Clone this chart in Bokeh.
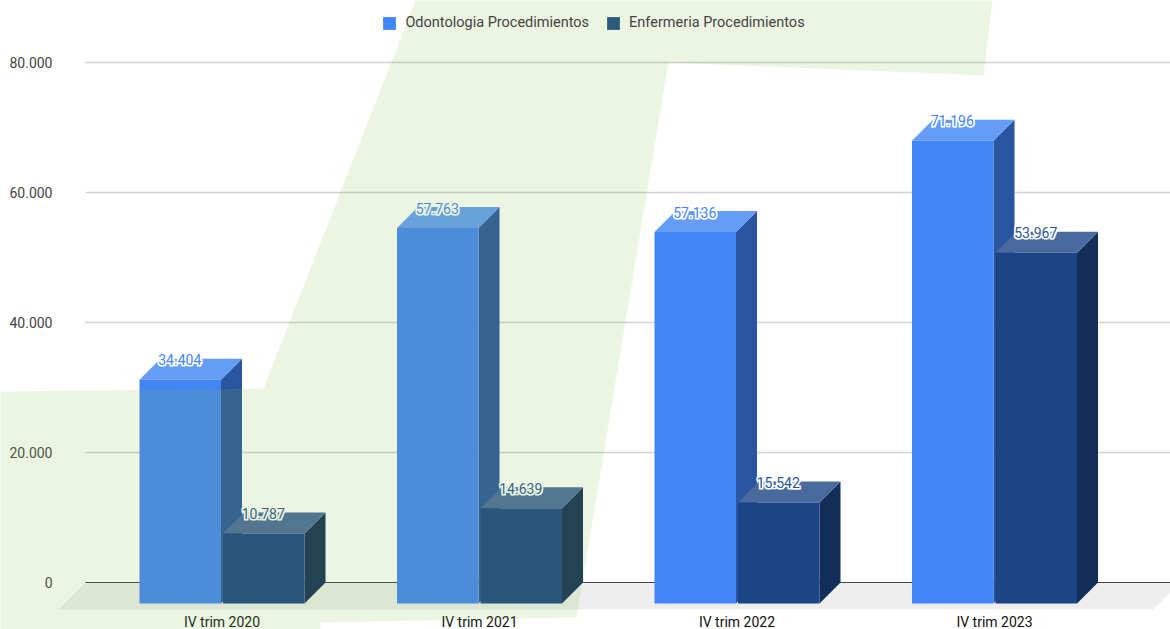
from bokeh.plotting import figure
from bokeh.embed import file_html
from bokeh.resources import INLINE
from bokeh.models import FixedTicker, Legend, LegendItem, ColumnDataSource
from bokeh.core.properties import value

categories = ["IV trim 2020", "IV trim 2021", "IV trim 2022", "IV trim 2023"]
odontologia = [34404, 57763, 57136, 71196]
enfermeria = [10787, 14639, 15542, 53967]
y_ticks = [0, 20000, 40000, 60000, 80000]
y_tick_labels = ["0", "20.000", "40.000", "60.000", "80.000"]
series_names = ["Odontologia Procedimientos", "Enfermeria Procedimientos"]
legend_colors = ["#4285F4", "#2C5A7C"]

WIDTH, HEIGHT = 1170, 629
ZERO_PX, TOP_PX = 582, 62
CAT0_PX, CAT_STEP = 221.5, 257.5
BAR_W_PX, GAP_PX, DEPTH_PX = 81.5, 2, 21
PX_X = 1 / CAT_STEP
PX_Y = 80000 / (ZERO_PX - TOP_PX)
FONT = "Roboto"


def dx(px):
    return (px - CAT0_PX) * PX_X


def dy(py):
    return (ZERO_PX - py) * PX_Y


p = figure(width=WIDTH, height=HEIGHT, output_backend="svg", toolbar_location=None,
           x_range=(dx(0), dx(WIDTH)), y_range=(dy(HEIGHT), dy(0)),
           min_border=0, outline_line_color=None,
           background_fill_color="white", border_fill_color="white")
p.grid.visible = False

ax = p.yaxis[0]
ax.fixed_location = dx(62)
ax.ticker = FixedTicker(ticks=y_ticks)
ax.major_label_overrides = dict(zip(y_ticks, y_tick_labels))
ax.axis_line_color = None
ax.major_tick_line_color = None
ax.minor_tick_line_color = None
ax.major_label_text_font = FONT
ax.major_label_text_font_size = "14px"
ax.major_label_text_color = "#444444"
ax.major_label_standoff = 4

bx = p.xaxis[0]
bx.fixed_location = dy(605)
bx.ticker = FixedTicker(ticks=list(range(len(categories))))
bx.major_label_overrides = dict(enumerate(categories))
bx.axis_line_color = None
bx.major_tick_line_color = None
bx.minor_tick_line_color = None
bx.major_label_text_font = FONT
bx.major_label_text_font_size = "14px"
bx.major_label_text_color = "#111111"
bx.major_label_standoff = 2

# floor
fx0 = dx(85)
fx1 = dx(WIDTH + 10)
d_x, d_y = DEPTH_PX * PX_X, DEPTH_PX * PX_Y
floor_low = -27 * PX_Y
p.patch([fx0, fx1, fx1 - 27 * PX_X, fx0 - 27 * PX_X], [0, 0, floor_low, floor_low],
        fill_color="#EEEEEE", line_color=None)

# gridlines
for t in y_ticks:
    p.segment([fx0], [t], [dx(WIDTH)], [t],
              line_color="#444444" if t == 0 else "#D2D2D2",
              line_width=1.2 if t == 0 else 1.5)

styles = [
    dict(front="#4285F4", top="#659DF6", side="#2A55A0", label="#4285F4"),
    dict(front="#1C4587", top="#4A6A9E", side="#132E5A", label="#2A5594"),
]


def left_edges(s, n):
    off = -BAR_W_PX - GAP_PX / 2 if s == 0 else GAP_PX / 2
    return [i + off * PX_X for i in range(n)]


for s, vals in enumerate([odontologia, enfermeria]):
    st = styles[s]
    x0 = left_edges(s, len(vals))
    x1 = [a + BAR_W_PX * PX_X for a in x0]
    top = [v - d_y for v in vals]
    bot = [-d_y] * len(vals)
    p.patches([[b, b + d_x, b + d_x, b] for b in x1],
              [[t, v, 0, b0] for t, v, b0 in zip(top, vals, bot)],
              fill_color=st["side"], line_color=None)
    p.patches([[a, a + d_x, b + d_x, b] for a, b in zip(x0, x1)],
              [[t, v, v, t] for t, v in zip(top, vals)],
              fill_color=st["top"], line_color=None)
    p.quad(left=x0, right=x1, top=top, bottom=bot, fill_color=st["front"], line_color=None)

# value labels: a white halo under each coloured text
for s, vals in enumerate([odontologia, enfermeria]):
    st = styles[s]
    x0 = left_edges(s, len(vals))
    src = ColumnDataSource(dict(
        x=[a + (BAR_W_PX / 2 - 0.5) * PX_X for a in x0],
        y=[v - 1 * PX_Y for v in vals],
        t=[f"{v:,}".replace(",", ".") for v in vals]))
    kw = dict(text="t", source=src, text_align="center", text_baseline="middle",
              text_font=value(FONT), text_font_size="14px")
    for ox, oy in ((-1, -1), (1, -1), (-1, 1), (1, 1)):
        p.text("x", "y", text_color="white", text_outline_color="white",
               x_offset=ox, y_offset=oy, **kw)
    p.text("x", "y", text_color=st["label"], **kw)

# legend swatches carry the colours seen in the legend, including the tint of the backdrop
NAN = float("nan")
swatches = [p.quad(left=[NAN], right=[NAN], top=[NAN], bottom=[NAN], fill_color=c, line_color=None)
            for c in legend_colors]
legend = Legend(items=[LegendItem(label=n, renderers=[r]) for n, r in zip(series_names, swatches)],
                orientation="horizontal", location=(381.4, 598), background_fill_alpha=0,
                border_line_color=None, glyph_width=16, glyph_height=16, label_standoff=8,
                spacing=16, margin=0, padding=5, label_text_font=FONT,
                label_text_font_size="14.5px", label_text_color="#444444", level="guide")
p.add_layout(legend, "center")

# pale green backdrop shape lying across the picture
shape_x = [415, 263, 0, 0, 320, 320, 576, 668, 983, 992]
shape_y = [0, 388, 391, 629, 629, 622, 617, 62, 75, 0]
p.patch([dx(a) for a in shape_x], [dy(b) for b in shape_y],
        fill_color="#82BB3E", fill_alpha=0.15, line_color=None, level="overlay")

open("out.html", "w").write(file_html(p, INLINE))
